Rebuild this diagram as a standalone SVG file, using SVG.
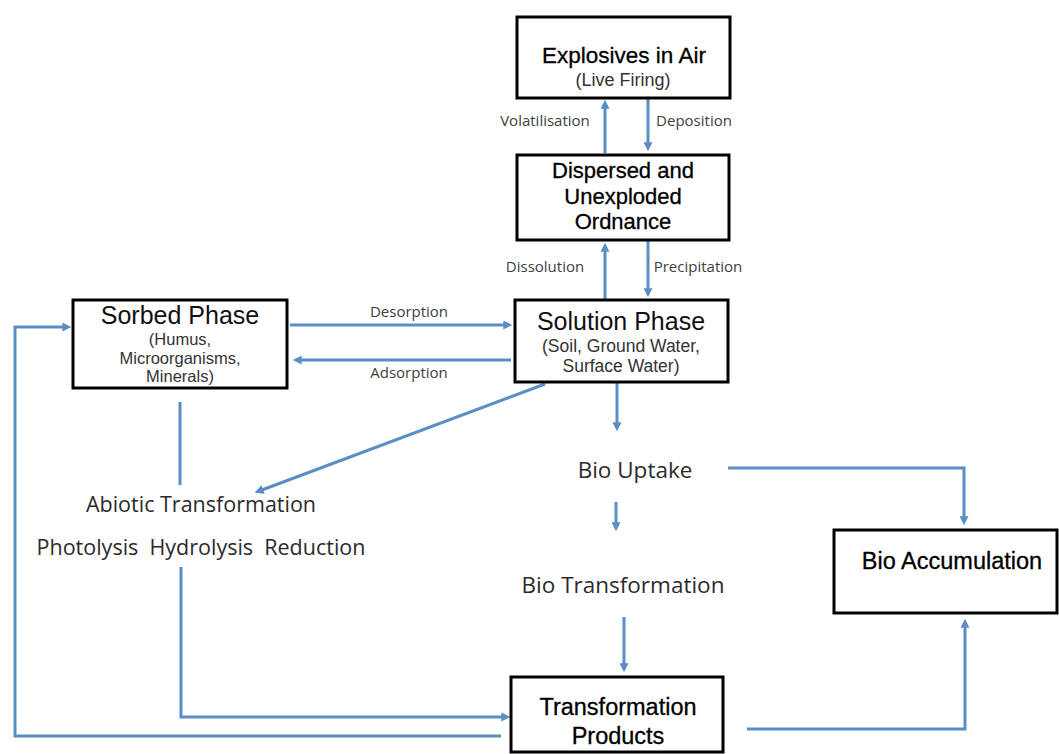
<svg xmlns="http://www.w3.org/2000/svg" width="1059" height="754" viewBox="0 0 1059 754">
<style>
.box{fill:#fff;stroke:#000;stroke-width:3}
.c{fill:none;stroke:#5b8ec4;stroke-width:3}
text{font-family:"Open Sans","Liberation Sans",sans-serif;text-anchor:middle}
.bx{font-family:"Liberation Sans",Arial,sans-serif}
.t{fill:#000;stroke:#000;stroke-width:0.3}
.big{font-size:25px;fill:#111}
.sub{fill:#333}
.lab{font-size:15px;fill:#404040}
.free{font-size:21.5px;fill:#2b2b2b}
.free2{font-size:22.5px;fill:#2b2b2b}
</style>
<defs>
<marker id="ah" viewBox="0 0 10 10" refX="3" refY="5" markerWidth="10" markerHeight="9" markerUnits="userSpaceOnUse" orient="auto">
<path d="M0,0 L10,5 L0,10 z" fill="#5b8ec4"/>
</marker>
</defs>
<g id="connectors">
<path class="c" d="M605,153 V106" marker-end="url(#ah)"/>
<path class="c" d="M648,99 V145" marker-end="url(#ah)"/>
<path class="c" d="M605,299 V249" marker-end="url(#ah)"/>
<path class="c" d="M648,241 V291" marker-end="url(#ah)"/>
<path class="c" d="M290,325 H506" marker-end="url(#ah)"/>
<path class="c" d="M511,360 H299" marker-end="url(#ah)"/>
<path class="c" d="M501,736 H15 V327 H65" marker-end="url(#ah)"/>
<path class="c" d="M180,402 V485"/>
<path class="c" d="M181,567 V717 H504" marker-end="url(#ah)"/>
<path class="c" d="M545,384 L260.5,490.5" marker-end="url(#ah)"/>
<path class="c" d="M617,383 V425" marker-end="url(#ah)"/>
<path class="c" d="M616,502 V525" marker-end="url(#ah)"/>
<path class="c" d="M624,617 V666" marker-end="url(#ah)"/>
<path class="c" d="M728,468 H964 V519" marker-end="url(#ah)"/>
<path class="c" d="M747,729 H965 V625" marker-end="url(#ah)"/>
</g>
<g id="labels">
<text class="lab" x="545" y="126">Volatilisation</text>
<text class="lab" x="694" y="126">Deposition</text>
<text class="lab" x="545" y="272">Dissolution</text>
<text class="lab" x="698" y="272">Precipitation</text>
<text class="lab" x="409" y="317">Desorption</text>
<text class="lab" x="409" y="378">Adsorption</text>
</g>
<g id="explosives-in-air">
<rect class="box" x="517" y="17" width="213" height="81"/>
<text class="bx t" x="624" y="63" font-size="22.5">Explosives in Air</text>
<text class="bx sub" x="623" y="86" font-size="18">(Live Firing)</text>
</g>
<g id="dispersed">
<rect class="box" x="517" y="155" width="212" height="85"/>
<text class="bx t" x="623" y="178" font-size="22">Dispersed and</text>
<text class="bx t" x="623" y="203.5" font-size="22">Unexploded</text>
<text class="bx t" x="623" y="229" font-size="22">Ordnance</text>
</g>
<g id="solution-phase">
<rect class="box" x="515" y="300" width="213" height="82"/>
<text class="bx big" x="621" y="330">Solution Phase</text>
<text class="bx sub" x="621" y="352" font-size="17.5">(Soil, Ground Water,</text>
<text class="bx sub" x="621" y="372" font-size="17.5">Surface Water)</text>
</g>
<g id="sorbed-phase">
<rect class="box" x="73" y="300" width="214" height="88"/>
<text class="bx big" x="180" y="324">Sorbed Phase</text>
<text class="bx sub" x="180" y="345" font-size="16.5">(Humus,</text>
<text class="bx sub" x="180" y="363.5" font-size="16.5">Microorganisms,</text>
<text class="bx sub" x="180" y="382" font-size="16.5">Minerals)</text>
</g>
<g id="abiotic-transformation">
<text class="free" x="201" y="512">Abiotic Transformation</text>
<text class="free" x="201" y="555" xml:space="preserve">Photolysis  Hydrolysis  Reduction</text>
</g>
<g id="bio-uptake">
<text class="free2" x="635" y="478">Bio Uptake</text>
</g>
<g id="bio-transformation">
<text class="free2" x="623" y="593">Bio Transformation</text>
</g>
<g id="bio-accumulation">
<rect class="box" x="834" y="530" width="223" height="83"/>
<text class="bx t" x="952" y="569" font-size="23.5">Bio Accumulation</text>
</g>
<g id="transformation-products">
<rect class="box" x="511" y="677" width="212" height="75"/>
<text class="bx t" x="618" y="715" font-size="23.5">Transformation</text>
<text class="bx t" x="618" y="744" font-size="23.5">Products</text>
</g>
</svg>
